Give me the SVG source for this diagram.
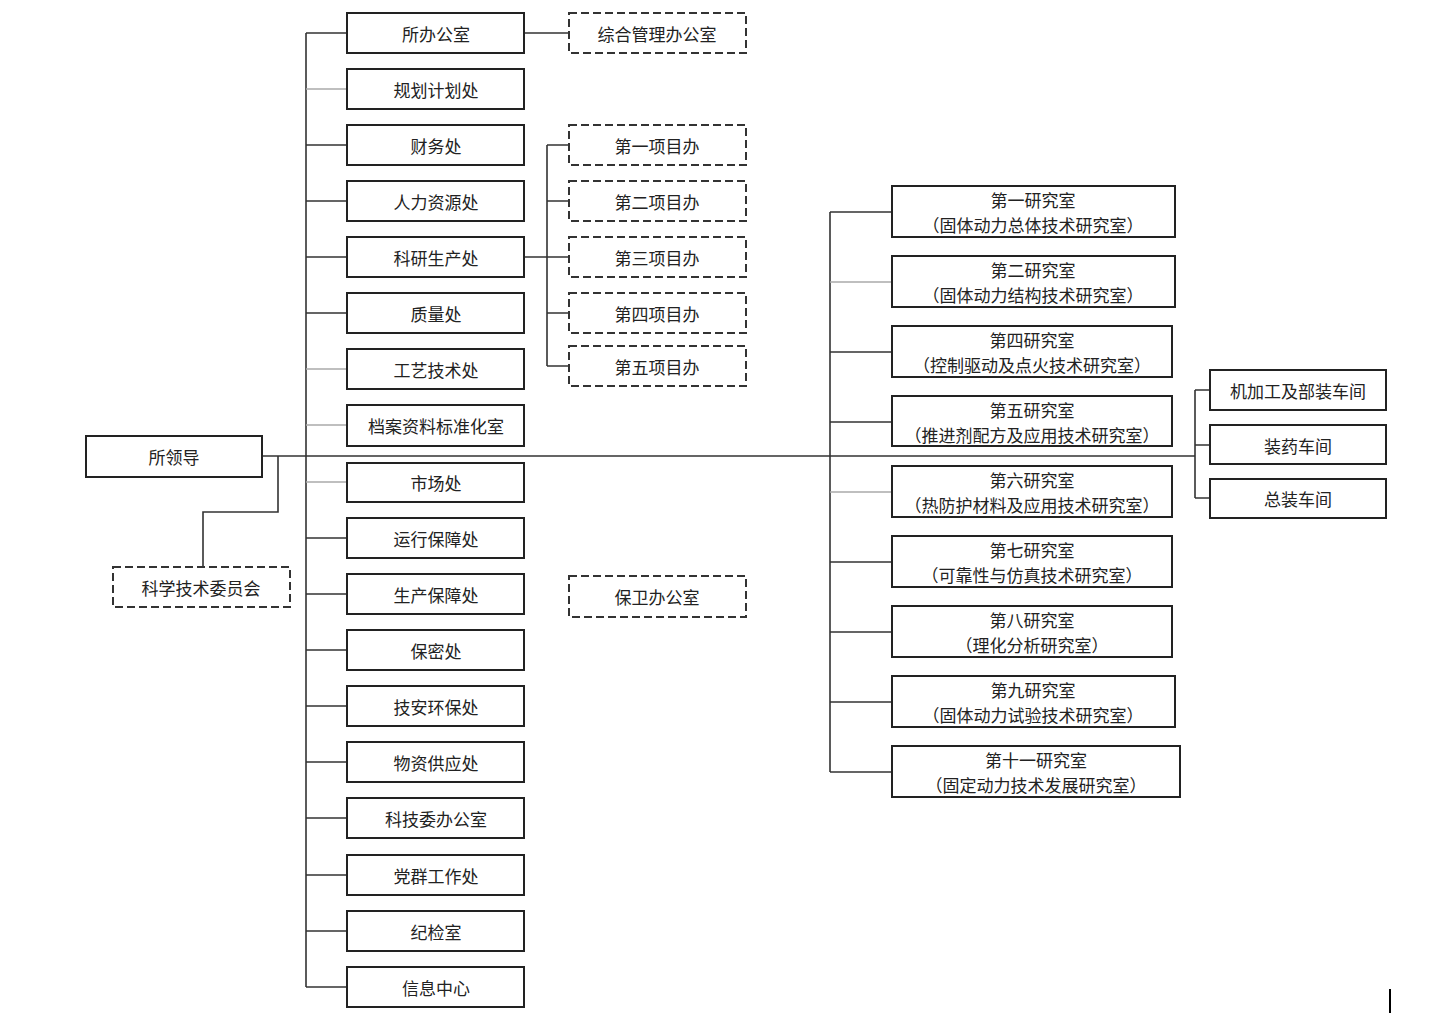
<svg xmlns="http://www.w3.org/2000/svg" width="1432" height="1019" viewBox="0 0 1432 1019">
<style>
.b{fill:#fff;stroke:#222;stroke-width:2}
.d{fill:#fff;stroke:#333;stroke-width:2;stroke-dasharray:8 4}
.t{font-family:"Noto Sans CJK SC","Noto Sans",sans-serif;font-size:17px;fill:#222;text-anchor:middle;dominant-baseline:central}
.c{fill:none;stroke:#333;stroke-width:1.6}
.l{fill:none;stroke:#aaa;stroke-width:1.4}
</style>
<rect width="1432" height="1019" fill="#fff"/>
<g id="connectors">
<path class="c" d="M262 456H1195M306 33V987M830 212V772M1195 390V498M1195 390H1210M1195 445H1210M1195 498H1210"/>
<path class="c" d="M278 456V512H203V567"/>
<path class="c" d="M524 33H569M524 257H547M547 145V366M547 145H569M547 201H569M547 257H569M547 313H569M547 366H569"/>
<path class="c" d="M306 33H347M306 145H347M306 201H347M306 257H347M306 313H347M306 538H347M306 594H347M306 650H347M306 706H347M306 762H347M306 818H347M306 875H347M306 931H347M306 987H347"/>
<path class="l" d="M306 89H347M306 369H347M306 425H347M306 482H347"/>
<path class="c" d="M830 212H892M830 352H892M830 422H892M830 562H892M830 632H892M830 702H892M830 772H892"/>
<path class="l" d="M830 282H892M830 492H892"/>
</g>
<g id="n-leader"><rect class="b" x="86" y="436" width="176" height="41"/><text class="t" x="174" y="456">所领导</text></g>
<g id="n-kjw"><rect class="d" x="113" y="567" width="177" height="40"/><text class="t" x="201" y="587">科学技术委员会</text></g>
<g id="n1"><rect class="b" x="347" y="13" width="177" height="40"/><text class="t" x="436" y="33">所办公室</text></g>
<g id="n2"><rect class="b" x="347" y="69" width="177" height="40"/><text class="t" x="436" y="89">规划计划处</text></g>
<g id="n3"><rect class="b" x="347" y="125" width="177" height="40"/><text class="t" x="436" y="145">财务处</text></g>
<g id="n4"><rect class="b" x="347" y="181" width="177" height="40"/><text class="t" x="436" y="201">人力资源处</text></g>
<g id="n5"><rect class="b" x="347" y="237" width="177" height="40"/><text class="t" x="436" y="257">科研生产处</text></g>
<g id="n6"><rect class="b" x="347" y="293" width="177" height="40"/><text class="t" x="436" y="313">质量处</text></g>
<g id="n7"><rect class="b" x="347" y="349" width="177" height="40"/><text class="t" x="436" y="369">工艺技术处</text></g>
<g id="n8"><rect class="b" x="347" y="405" width="177" height="41"/><text class="t" x="436" y="425">档案资料标准化室</text></g>
<g id="n9"><rect class="b" x="347" y="463" width="177" height="39"/><text class="t" x="436" y="482">市场处</text></g>
<g id="n10"><rect class="b" x="347" y="518" width="177" height="40"/><text class="t" x="436" y="538">运行保障处</text></g>
<g id="n11"><rect class="b" x="347" y="574" width="177" height="40"/><text class="t" x="436" y="594">生产保障处</text></g>
<g id="n12"><rect class="b" x="347" y="630" width="177" height="40"/><text class="t" x="436" y="650">保密处</text></g>
<g id="n13"><rect class="b" x="347" y="686" width="177" height="40"/><text class="t" x="436" y="706">技安环保处</text></g>
<g id="n14"><rect class="b" x="347" y="742" width="177" height="40"/><text class="t" x="436" y="762">物资供应处</text></g>
<g id="n15"><rect class="b" x="347" y="798" width="177" height="40"/><text class="t" x="436" y="818">科技委办公室</text></g>
<g id="n16"><rect class="b" x="347" y="855" width="177" height="40"/><text class="t" x="436" y="875">党群工作处</text></g>
<g id="n17"><rect class="b" x="347" y="911" width="177" height="40"/><text class="t" x="436" y="931">纪检室</text></g>
<g id="n18"><rect class="b" x="347" y="967" width="177" height="40"/><text class="t" x="436" y="987">信息中心</text></g>
<g id="d1"><rect class="d" x="569" y="13" width="177" height="40"/><text class="t" x="657" y="33">综合管理办公室</text></g>
<g id="p1"><rect class="d" x="569" y="125" width="177" height="40"/><text class="t" x="657" y="145">第一项目办</text></g>
<g id="p2"><rect class="d" x="569" y="181" width="177" height="40"/><text class="t" x="657" y="201">第二项目办</text></g>
<g id="p3"><rect class="d" x="569" y="237" width="177" height="40"/><text class="t" x="657" y="257">第三项目办</text></g>
<g id="p4"><rect class="d" x="569" y="293" width="177" height="40"/><text class="t" x="657" y="313">第四项目办</text></g>
<g id="p5"><rect class="d" x="569" y="346" width="177" height="40"/><text class="t" x="657" y="366">第五项目办</text></g>
<g id="d2"><rect class="d" x="569" y="576" width="177" height="41"/><text class="t" x="657" y="596">保卫办公室</text></g>
<g id="r1"><rect class="b" x="892" y="186" width="283" height="51"/><text class="t" x="1033" y="199">第一研究室</text><text class="t" x="1033" y="224">（固体动力总体技术研究室）</text></g>
<g id="r2"><rect class="b" x="892" y="256" width="283" height="51"/><text class="t" x="1033" y="269">第二研究室</text><text class="t" x="1033" y="294">（固体动力结构技术研究室）</text></g>
<g id="r4"><rect class="b" x="892" y="326" width="280" height="51"/><text class="t" x="1032" y="339">第四研究室</text><text class="t" x="1032" y="364">（控制驱动及点火技术研究室）</text></g>
<g id="r5"><rect class="b" x="892" y="396" width="280" height="50"/><text class="t" x="1032" y="409">第五研究室</text><text class="t" x="1032" y="434">（推进剂配方及应用技术研究室）</text></g>
<g id="r6"><rect class="b" x="892" y="466" width="280" height="51"/><text class="t" x="1032" y="479">第六研究室</text><text class="t" x="1032" y="504">（热防护材料及应用技术研究室）</text></g>
<g id="r7"><rect class="b" x="892" y="536" width="280" height="51"/><text class="t" x="1032" y="549">第七研究室</text><text class="t" x="1032" y="574">（可靠性与仿真技术研究室）</text></g>
<g id="r8"><rect class="b" x="892" y="606" width="280" height="51"/><text class="t" x="1032" y="619">第八研究室</text><text class="t" x="1032" y="644">（理化分析研究室）</text></g>
<g id="r9"><rect class="b" x="892" y="676" width="283" height="51"/><text class="t" x="1033" y="689">第九研究室</text><text class="t" x="1033" y="714">（固体动力试验技术研究室）</text></g>
<g id="r11"><rect class="b" x="892" y="746" width="288" height="51"/><text class="t" x="1036" y="759">第十一研究室</text><text class="t" x="1036" y="784">（固定动力技术发展研究室）</text></g>
<g id="w1"><rect class="b" x="1210" y="370" width="176" height="40"/><text class="t" x="1298" y="390">机加工及部装车间</text></g>
<g id="w2"><rect class="b" x="1210" y="425" width="176" height="39"/><text class="t" x="1298" y="445">装药车间</text></g>
<g id="w3"><rect class="b" x="1210" y="479" width="176" height="39"/><text class="t" x="1298" y="498">总装车间</text></g>
<path d="M1390 989V1013" stroke="#000" stroke-width="2"/>
</svg>
